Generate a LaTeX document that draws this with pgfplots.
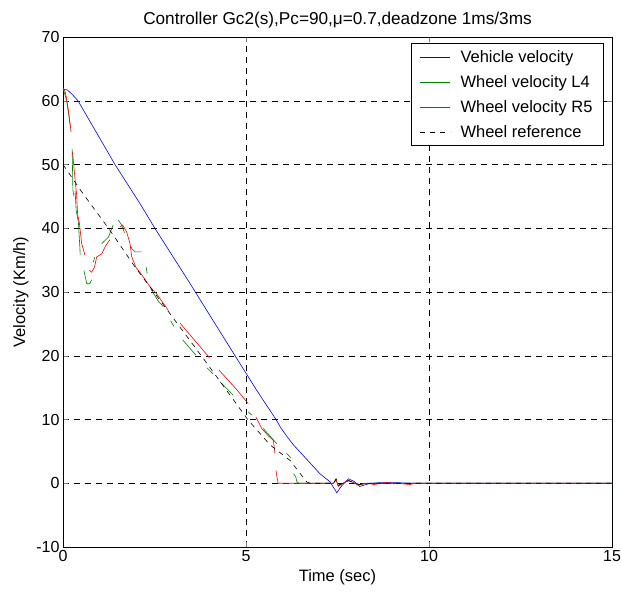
\documentclass[border=0pt]{standalone}
\usepackage{pgfplots}
\pgfplotsset{compat=1.18}
\usepackage{fontspec}
\setmainfont{Liberation Sans}
\begin{document}
\begin{tikzpicture}
\path[use as bounding box] (-63pt,-51pt) rectangle (558pt,547pt);
\begin{axis}[
  at={(0,0)}, anchor=south west,
  scale only axis, width=549pt, height=510pt,
  xmin=0, xmax=15, ymin=-10, ymax=70,
  xtick={0,5,10,15}, ytick={-10,0,...,70},
  tick align=inside, tick pos=both,
  major tick length=5pt,
  grid=major,
  major grid style={black, line width=0.5pt, dash pattern=on 6pt off 5pt},
  axis line style={black, line width=0.6pt},
  /pgf/number format/assume math mode=true,
  tick label style={font=\fontsize{16}{18}\selectfont},
  label style={font=\fontsize{16.5}{19}\selectfont},
  xlabel={Time (sec)},
  ylabel={Velocity (Km/h)},
  xlabel style={yshift=-1pt},
  ylabel style={yshift=1pt},
  title={Controller Gc2(s),Pc=90,μ=0.7,deadzone 1ms/3ms},
  title style={font=\fontsize{17.2}{19}\selectfont, yshift=-1pt},
  unbounded coords=jump,
  legend style={at={(0.985,0.988)}, anchor=north east, draw=black, fill=white,
    font=\fontsize{16.5}{19}\selectfont, row sep=7.5pt, inner xsep=9pt, inner ysep=5pt,
    cells={anchor=west}},
  legend image code/.code={\draw[#1] (0pt,0pt) -- (30pt,0pt); \path (38pt,0pt);},
]
% Vehicle velocity
\addplot[blue, line width=0.6pt] coordinates {
(0,61.8) (0.12,61.7) (0.25,61) (0.41,60) (1.42,50) (2.1,43.9) (2.51,40)
(3.42,31.8) (4.2,24.6) (5.29,14.6) (5.82,10) (5.95,8.7) (6.11,7.4) (6.3,6.0) (7.02,1.5) (7.3,0.2)
(7.48,-1.5) (7.6,-0.5) (7.8,0.7) (7.95,0.3) (8.11,-0.5) (8.39,0) (8.7,0.1)
(9.1,0.1) (9.5,0) (15,0)
};
\addlegendentry{Vehicle velocity}
% Wheel velocity L4
\addplot[black!50!green, line width=0.6pt] coordinates {
(0,62) (0.1,60) (0.2,56) (nan,nan)
(0.25,52.5) (0.27,46) (0.3,45) (nan,nan)
(0.33,45.9) (0.36,42.8) (0.42,41) (0.46,37.1) (0.47,35.8) (nan,nan)
(0.57,33.4) (0.65,31.3) (0.73,31.3) (0.78,31.9) (nan,nan)
(0.83,34.7) (0.87,35.5) (nan,nan)
(1.06,37.6) (1.24,38.6) (1.37,40.5) (nan,nan)
(1.51,41.3) (1.6,40.5) (1.68,39.3) (nan,nan)
(1.85,37.2) (1.88,36.8) (1.97,36.3) (2.15,36.3) (nan,nan)
(2.27,33.9) (2.3,32.9) (nan,nan)
(2.4,30.5) (2.6,28.6) (2.74,27.7) (nan,nan)
(2.94,25.5) (3.03,24.6) (nan,nan)
(3.27,22.5) (3.63,20.1) (nan,nan)
(3.94,18.1) (4.09,17.2) (nan,nan)
(4.29,15.9) (4.52,14.6) (4.65,13.8) (nan,nan)
(5.06,11.2) (5.16,10.7) (nan,nan)
(5.47,8.6) (5.84,6.2) (nan,nan)
(6.11,4.7) (6.22,4.0) (nan,nan)
(6.3,1.5) (6.36,1.0) (6.39,0.2) (6.45,0) (7.39,0) (7.46,0.5) (7.52,-0.4) (7.65,0)
(7.8,0.4) (8.07,-0.2) (8.3,0) (15,0)
};
\addlegendentry{Wheel velocity L4}
% Wheel velocity R5
\addplot[red, line width=0.6pt] coordinates {
(0,62) (0.05,61.6) (0.1,60.3) (0.16,58) (0.22,55.1) (nan,nan)
(0.26,52) (0.3,49.5) (0.34,47) (0.37,45.4) (0.4,42.2) (0.45,40.7) (0.51,37.6) (0.6,35.8) (nan,nan)
(0.72,33.4) (0.78,33.1) (0.86,33.9) (0.92,35.5) (1.06,36) (1.15,37.1) (1.28,38.2) (nan,nan)
(1.56,40.2) (1.63,40.5) (1.74,39.4) (1.83,37.6) (1.88,35.5) (1.99,33.9) (2.19,32.4)
(2.38,30.8) (2.56,29.7) (2.88,27.1) (nan,nan)
(3.2,25.1) (4.0,19.7) (nan,nan)
(4.27,17.7) (4.73,14.8) (5.06,12.5) (nan,nan)
(5.27,10.4) (5.43,8.6) (5.6,7.5) (5.75,6.7) (5.79,4.7) (nan,nan)
(5.82,2.0) (5.85,0.8) (5.88,0) (7.39,0) (7.46,0.6) (7.52,-0.5) (7.65,0) (7.8,0.5)
(8.07,-0.3) (8.3,0) (8.5,-0.2) (8.8,0.1) (9.1,0) (9.48,-0.2) (9.6,0) (15,0)
};
\addlegendentry{Wheel velocity R5}
% Wheel reference
\addplot[black, line width=0.6pt, dash pattern=on 5pt off 5pt] coordinates {
(0,50) (0.5,45.8) (1.28,39.7) (1.97,33.9) (2.65,28.7) (3.83,19.6) (4.34,15.6)
(5.06,9.9) (5.66,6) (6.2,3.6) (6.66,0.2) (6.75,0) (7.4,0) (7.46,0.7) (7.52,-0.3)
(7.65,0) (7.8,0.4) (8.1,-0.2) (8.5,0) (15,0)
};
\addlegendentry{Wheel reference}
\end{axis}
\end{tikzpicture}
\end{document}
